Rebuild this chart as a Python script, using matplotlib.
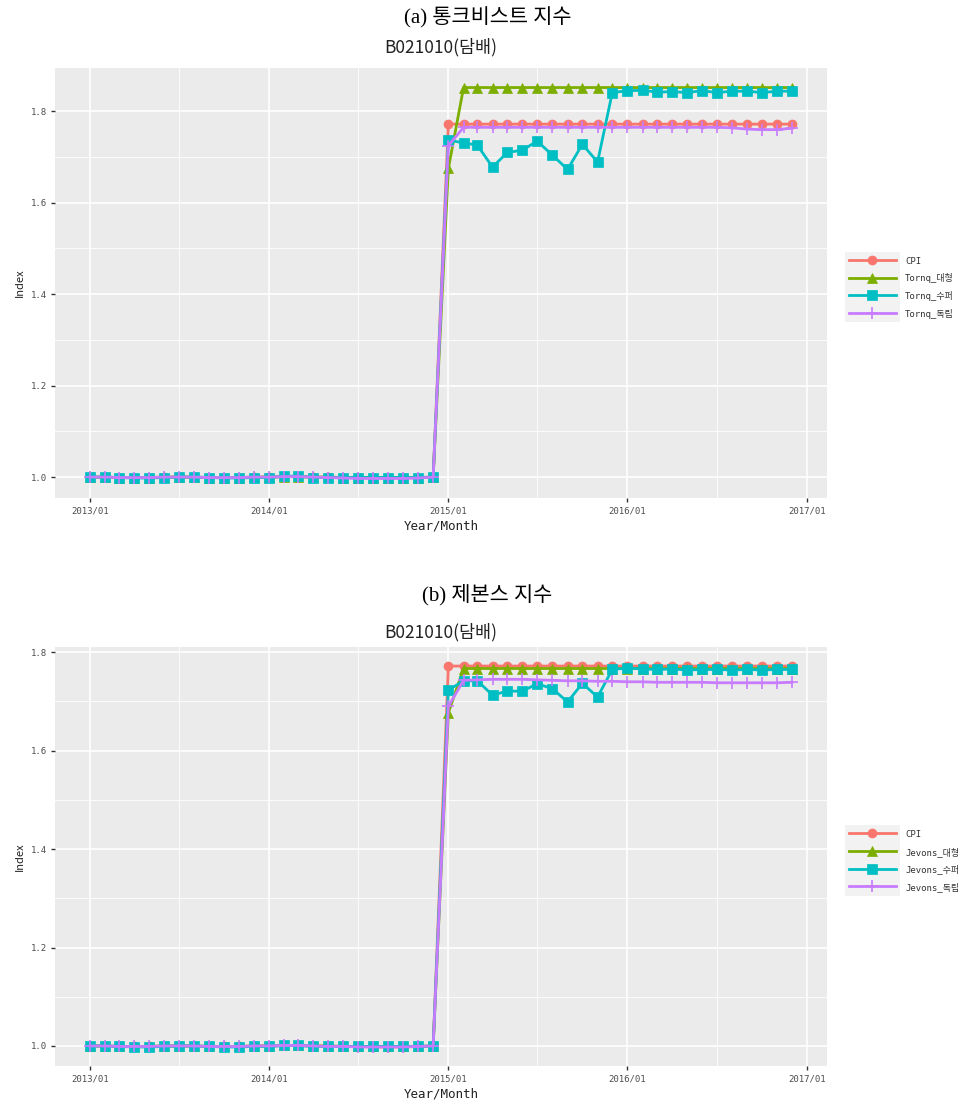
import matplotlib
matplotlib.use("Agg")
import matplotlib.pyplot as plt
import matplotlib.dates as mdates
from matplotlib.legend_handler import HandlerLine2D
from matplotlib.patches import Rectangle
import pandas as pd

# ---- data -------------------------------------------------------------
months = pd.date_range("2013-01-01", periods=48, freq="MS")
year_ticks = pd.to_datetime(["2013-01-01", "2014-01-01", "2015-01-01",
                             "2016-01-01", "2017-01-01"])
year_labels = ["2013/01", "2014/01", "2015/01", "2016/01", "2017/01"]
mid_year = pd.to_datetime(["2013-07-01", "2014-07-01", "2015-07-01", "2016-07-01"])

cpi = [1.000, 1.000, 0.999, 0.999, 0.999, 1.000, 1.000, 1.000, 0.999, 0.999, 0.999, 1.000,
       1.000, 1.001, 1.001, 1.000, 1.000, 0.999, 0.999, 0.998, 0.998, 0.998, 0.999, 1.000,
       1.772, 1.772, 1.772, 1.772, 1.772, 1.772, 1.772, 1.772, 1.772, 1.772, 1.772, 1.772,
       1.772, 1.772, 1.772, 1.772, 1.772, 1.772, 1.772, 1.772, 1.772, 1.772, 1.772, 1.772]

tornq_large = [1.000, 1.000, 0.999, 0.999, 0.999, 1.000, 1.000, 1.000, 0.999, 0.999, 0.999, 1.000,
               1.000, 1.001, 1.001, 1.000, 1.000, 0.999, 0.999, 0.999, 0.999, 0.999, 0.999, 1.000,
               1.675, 1.852, 1.852, 1.852, 1.852, 1.852, 1.852, 1.852, 1.852, 1.852, 1.852, 1.852,
               1.852, 1.852, 1.852, 1.852, 1.852, 1.852, 1.852, 1.852, 1.852, 1.852, 1.852, 1.852]
tornq_super = [1.000, 1.000, 0.999, 0.998, 0.998, 0.999, 1.000, 1.000, 0.999, 0.998, 0.998, 0.999,
               0.999, 1.002, 1.002, 0.999, 0.999, 0.999, 0.999, 0.999, 0.999, 0.999, 0.999, 1.000,
               1.737, 1.731, 1.726, 1.678, 1.710, 1.715, 1.735, 1.704, 1.673, 1.728, 1.689, 1.841,
               1.845, 1.846, 1.842, 1.843, 1.841, 1.845, 1.841, 1.844, 1.844, 1.841, 1.844, 1.844]
tornq_indep = [1.000, 1.000, 0.999, 0.999, 0.999, 1.000, 1.000, 1.000, 0.999, 0.999, 0.999, 1.000,
               1.000, 1.001, 1.001, 1.000, 0.999, 0.998, 0.997, 0.997, 0.997, 0.997, 0.998, 1.000,
               1.725, 1.765, 1.765, 1.765, 1.765, 1.765, 1.765, 1.765, 1.765, 1.765, 1.765, 1.765,
               1.765, 1.765, 1.765, 1.765, 1.765, 1.765, 1.765, 1.764, 1.761, 1.760, 1.760, 1.763]

jevons_large = [1.000, 1.000, 0.999, 0.999, 0.999, 1.000, 1.000, 1.000, 0.999, 0.999, 0.999, 1.000,
                1.000, 1.001, 1.001, 1.000, 1.000, 0.999, 0.999, 0.999, 0.999, 0.999, 0.999, 1.000,
                1.677, 1.767, 1.767, 1.767, 1.767, 1.767, 1.767, 1.767, 1.767, 1.767, 1.767, 1.767,
                1.767, 1.767, 1.767, 1.767, 1.767, 1.767, 1.767, 1.767, 1.767, 1.767, 1.767, 1.767]
jevons_super = [1.000, 1.000, 0.999, 0.998, 0.998, 0.999, 1.000, 1.000, 0.999, 0.998, 0.998, 0.999,
                0.999, 1.001, 1.001, 0.999, 0.999, 0.999, 0.999, 0.999, 0.999, 0.999, 0.999, 1.000,
                1.723, 1.742, 1.742, 1.713, 1.721, 1.721, 1.736, 1.726, 1.699, 1.737, 1.709, 1.765,
                1.768, 1.766, 1.765, 1.766, 1.764, 1.765, 1.765, 1.764, 1.765, 1.764, 1.765, 1.765]
jevons_indep = [1.000, 1.000, 0.999, 0.999, 0.999, 1.000, 1.000, 1.000, 0.999, 0.999, 0.999, 1.000,
                1.000, 1.001, 1.001, 1.000, 0.999, 0.999, 0.998, 0.998, 0.998, 0.998, 0.999, 1.000,
                1.690, 1.743, 1.744, 1.745, 1.745, 1.745, 1.744, 1.743, 1.742, 1.742, 1.741, 1.741,
                1.740, 1.740, 1.739, 1.739, 1.739, 1.739, 1.738, 1.738, 1.738, 1.738, 1.738, 1.739]

series_colors = ["#F8766D", "#7CAE00", "#00BFC4", "#C77CFF"]
series_markers = ["o", "^", "s", "+"]

panels = [
    {"heading": "(a) 통크비스트 지수", "title": "B021010(담배)",
     "labels": ["CPI", "Tornq_대형", "Tornq_수퍼", "Tornq_독립"],
     "values": [cpi, tornq_large, tornq_super, tornq_indep]},
    {"heading": "(b) 제본스 지수", "title": "B021010(담배)",
     "labels": ["CPI", "Jevons_대형", "Jevons_수퍼", "Jevons_독립"],
     "values": [cpi, jevons_large, jevons_super, jevons_indep]},
]

# ---- styling ----------------------------------------------------------
KR = ["Noto Sans CJK KR", "DejaVu Sans"]
MONO = ["DejaVu Sans Mono", "Noto Sans CJK KR"]
HEAD = ["Liberation Serif", "Noto Sans CJK KR"]


class KeyHandler(HandlerLine2D):
    """Legend key drawn on a light grey tile, ggplot style."""

    def create_artists(self, legend, orig_handle, xdescent, ydescent,
                       width, height, fontsize, trans):
        arts = super().create_artists(legend, orig_handle, xdescent, ydescent,
                                      width, height, fontsize, trans)
        pad = 3.0
        tile = Rectangle((-xdescent - pad, -ydescent - pad), width + 2 * pad,
                         height + 2 * pad, facecolor="#F2F2F2",
                         edgecolor="none", transform=trans, zorder=0)
        return [tile] + list(arts)


W, H = 975, 1108
fig = plt.figure(figsize=(W / 100, H / 100), dpi=100)
fig.patch.set_facecolor("white")

# panel boxes in pixel coords: (left, top, right, bottom)
boxes = [(55, 68, 827, 498), (55, 647, 827, 1066)]
heading_y = [18, 595]
title_y = [47, 632]

x0 = mdates.date2num(months[0])
x1 = mdates.date2num(months[-1])
xpad = (x1 - x0) * 0.05

for p, box, hy, ty in zip(panels, boxes, heading_y, title_y):
    l, t, r, b = box
    ax = fig.add_axes([l / W, 1 - b / H, (r - l) / W, (b - t) / H])
    ax.set_facecolor("#EBEBEB")
    for s in ax.spines.values():
        s.set_visible(False)

    for vals, lab, col, mk in zip(p["values"], p["labels"], series_colors, series_markers):
        ax.plot(months, vals, color=col, lw=2.0, marker=mk, ms=6.5 if mk != "+" else 8,
                mew=1.2 if mk == "+" else 0.5, mec=col, mfc=col, label=lab,
                solid_joinstyle="round")

    allv = [v for vals in p["values"] for v in vals]
    lo, hi = min(allv), max(allv)
    ypad = (hi - lo) * 0.05
    ax.set_ylim(lo - ypad, hi + ypad)
    ax.set_xlim(x0 - xpad, x1 + xpad)

    ax.set_yticks([1.0, 1.2, 1.4, 1.6, 1.8])
    ax.set_yticklabels(["1.0", "1.2", "1.4", "1.6", "1.8"])
    ax.set_yticks([1.1, 1.3, 1.5, 1.7], minor=True)
    ax.set_xticks(mdates.date2num(year_ticks))
    ax.set_xticklabels(year_labels)
    ax.set_xticks(mdates.date2num(mid_year), minor=True)

    ax.grid(which="major", color="white", lw=1.2)
    ax.grid(which="minor", color="white", lw=0.6)
    ax.set_axisbelow(True)
    ax.tick_params(which="major", length=3, width=1, color="#333333",
                   labelcolor="#4D4D4D", labelsize=6.5, pad=3)
    ax.tick_params(which="minor", length=0)
    for lbl in ax.get_xticklabels() + ax.get_yticklabels():
        lbl.set_family(MONO)

    ax.set_xlabel("Year/Month", family=MONO, fontsize=9, color="#222222", labelpad=3)
    ax.set_ylabel("Index", family=KR, fontsize=8, color="#222222", labelpad=4)

    leg = ax.legend(loc="center left", bbox_to_anchor=(1.018, 0.49), frameon=False,
                    prop={"family": MONO, "size": 6.5}, handlelength=5.2,
                    handleheight=1.2, labelspacing=0.85, handletextpad=1.0,
                    handler_map={matplotlib.lines.Line2D: KeyHandler()})
    for txt in leg.get_texts():
        txt.set_color("#333333")

    fig.text((l + r) / 2 / W, 1 - ty / H, p["title"], family=KR, fontsize=12.5,
             color="#222222", ha="center", va="center")
    fig.text(0.5, 1 - hy / H, p["heading"], family=HEAD, fontsize=15,
             color="black", ha="center", va="center")

fig.savefig("out.png", dpi=100, facecolor="white")
